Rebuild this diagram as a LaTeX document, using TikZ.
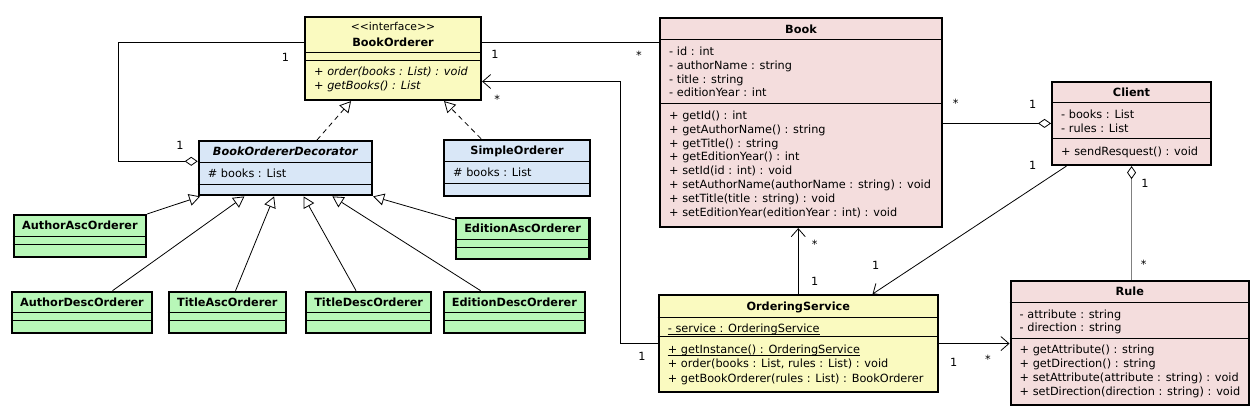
\documentclass[tikz,border=0pt]{standalone}
\usepackage{fontspec}
\setmainfont{DejaVu Sans}
\usetikzlibrary{arrows.meta,positioning}

\definecolor{ifaceyellow}{RGB}{250,250,192}
\definecolor{bookpink}{RGB}{244,221,221}
\definecolor{decoblue}{RGB}{217,231,247}
\definecolor{leafgreen}{RGB}{184,247,184}

\begin{document}
\begin{tikzpicture}[x=1pt,y=-1pt,font=\fontsize{11.3pt}{14pt}\selectfont,
    umlclass/.style={draw,line width=2.1pt,anchor=north west,inner sep=0pt},
    compsep/.style={line width=1pt},
    ctitle/.style={anchor=base,inner sep=0pt,font=\fontsize{11.3pt}{14pt}\selectfont\bfseries},
    stereo/.style={anchor=base,inner sep=0pt,font=\fontsize{10.8pt}{12pt}\selectfont},
    member/.style={anchor=base west,inner sep=0pt},
    mult/.style={anchor=base,inner sep=0pt},
    assoc/.style={line width=0.8pt},
    navarrow/.style={-{Straight Barb[length=8pt,width=14pt]}},
    aggr/.style={{Diamond[color=black,fill=white,length=13pt,width=9pt]}-},
    realize/.style={line width=0.8pt,dash pattern=on 5pt off 4pt,-{Triangle[fill=white,length=11pt,width=12pt]}},
    inherit/.style={line width=0.8pt,-{Triangle[fill=white,length=11pt,width=12pt]}}]
    \useasboundingbox (0,0) rectangle (1260,416);

    % Interface
    \node[umlclass,fill=ifaceyellow,minimum width=176,minimum height=83] (bo) at (304,16) {};
    \node[stereo] (bo-s) at ([yshift=-14.6]bo.north) {<{}<interface>{}>};
    \node[ctitle] (bo-t) at ([yshift=-30]bo.north) {BookOrderer};
    \foreach \t [count=\i from 0] in {order(books : List) : void, getBooks() : List}
        \node[member] (bo-m\i) at ([xshift=10,yshift=-59.5-14*\i]bo.north west) {\itshape + \t};

    % Decorator and simple orderer
    \node[umlclass,fill=decoblue,minimum width=173.3,minimum height=54.3] (dec) at (197.7,140) {};
    \node[ctitle] (dec-t) at ([yshift=-15.7]dec.north) {\itshape BookOrdererDecorator};
    \node[member] (dec-a0) at ([xshift=10,yshift=-37.3]dec.north west) {\# books : List};
    \node[umlclass,fill=decoblue,minimum width=146,minimum height=56.3] (so) at (443,138.7) {};
    \node[ctitle] (so-t) at ([yshift=-16]so.north) {SimpleOrderer};
    \node[member] (so-a0) at ([xshift=10,yshift=-38]so.north west) {\# books : List};

    % Concrete orderers
    \foreach \n/\x/\y/\w/\t in {aao/12.7/214/132.3/AuthorAscOrderer, eao/454.7/216.7/133.7/EditionAscOrderer,
        ado/10.7/290.7/140.3/AuthorDescOrderer, tao/167.6/290.7/117.4/TitleAscOrderer,
        tdo/305/290.7/125.2/TitleDescOrderer, edo/443/290.7/140.6/EditionDescOrderer} {
        \node[umlclass,fill=leafgreen,minimum width=\w,minimum height=41.5] (\n) at (\x,\y) {};
        \node[ctitle] (\n-t) at ([yshift=-15.7]\n.north) {\t};
    }

    % Book
    \node[umlclass,fill=bookpink,minimum width=282,minimum height=209.3] (book) at (659,16.7) {};
    \node[ctitle] (book-t) at ([yshift=-16.3]book.north) {Book};
    \foreach \t [count=\i from 0] in {id : int, authorName : string, title : string, editionYear : int}
        \node[member] (book-a\i) at ([xshift=10,yshift=-38.5-13.9*\i]book.north west) {- \t};
    \foreach \t [count=\i from 0] in {getId() : int, getAuthorName() : string, getTitle() : string,
        getEditionYear() : int, setId(id : int) : void, setAuthorName(authorName : string) : void,
        setTitle(title : string) : void, setEditionYear(editionYear : int) : void}
        \node[member] (book-m\i) at ([xshift=10,yshift=-102.5-13.9*\i]book.north west) {+ \t};

    % Client
    \node[umlclass,fill=bookpink,minimum width=159,minimum height=83.3] (client) at (1051,80.7) {};
    \node[ctitle] (client-t) at ([yshift=-15.6]client.north) {Client};
    \foreach \t [count=\i from 0] in {books : List, rules : List}
        \node[member] (client-a\i) at ([xshift=10,yshift=-38-13.6*\i]client.north west) {- \t};
    \node[member] (client-m0) at ([xshift=10,yshift=-74.3]client.north west) {+ sendResquest() : void};

    % Rule
    \node[umlclass,fill=bookpink,minimum width=238.5,minimum height=124.3] (rule) at (1009.5,280) {};
    \node[ctitle] (rule-t) at ([yshift=-15.7]rule.north) {Rule};
    \foreach \t [count=\i from 0] in {attribute : string, direction : string}
        \node[member] (rule-a\i) at ([xshift=10,yshift=-38-13.7*\i]rule.north west) {- \t};
    \foreach \t [count=\i from 0] in {getAttribute() : string, getDirection() : string,
        setAttribute(attribute : string) : void, setDirection(direction : string) : void}
        \node[member] (rule-m\i) at ([xshift=10,yshift=-73-14.2*\i]rule.north west) {+ \t};

    % Ordering service
    \node[umlclass,fill=ifaceyellow,minimum width=279,minimum height=97] (os) at (657.7,294) {};
    \node[ctitle] (os-t) at ([yshift=-16]os.north) {OrderingService};
    \node[member] (os-a0) at ([xshift=10,yshift=-38.3]os.north west) {- service : OrderingService};
    \node[member] (os-m0) at ([xshift=10,yshift=-59.3]os.north west) {+ getInstance() : OrderingService};
    \node[member] (os-m1) at ([xshift=10,yshift=-73.8]os.north west) {+ order(books : List, rules : List) : void};
    \node[member] (os-m2) at ([xshift=10,yshift=-88.3]os.north west) {+ getBookOrderer(rules : List) : BookOrderer};
    % static members underlined
    \foreach \s in {os-a0,os-m0}
        \draw[line width=0.7pt] ([yshift=-1.8]\s.base west) -- ([yshift=-1.8]\s.base east);

    % Compartment lines
    \foreach \c/\d in {bo/36.5,bo/44.5,book/22.6,book/86.6,client/21.6,client/57.6,rule/22.7,rule/58.3,
        os/23.3,os/42.7,dec/22.7,dec/44,so/23,so/44.6,aao/22.7,aao/30.3,eao/23,eao/31,
        ado/22,ado/30,tao/22,tao/30,tdo/22,tdo/30,edo/22,edo/30}
        \draw[compsep] ([yshift=-\d]\c.north west) -- ([yshift=-\d]\c.north east);

    % Realizations
    \draw[realize] ([xshift=31.6]dec.north) -- ([xshift=-42]bo.south);
    \draw[realize] ([xshift=-36]so.north) -- ([xshift=51]bo.south);

    % Generalizations
    \draw[inherit] (aao.north east) -- ([xshift=-85.3]dec.south);
    \draw[inherit] ([xshift=30.6]ado.north) -- ([xshift=-41]dec.south);
    \draw[inherit] ([xshift=8.2]tao.north) -- ([xshift=-11.3]dec.south);
    \draw[inherit] ([xshift=-12.6]tdo.north) -- ([xshift=18.2]dec.south);
    \draw[inherit] ([xshift=-33.7]edo.north) -- ([xshift=47]dec.south);
    \draw[inherit] ([yshift=-3.3]eao.north west) -- (dec.south east);

    % Associations
    \draw[assoc] ([yshift=-26]bo.north east) -- ([yshift=-26]bo.north east -| book.west);
    \draw[assoc,aggr] ([yshift=-21.3]dec.north west) -- ++(-79,0) |- ([yshift=-26.5]bo.north west);
    \draw[assoc,aggr] (client.west) -- (client.west -| book.east);
    \draw[assoc,aggr,black!50] (client.south) -- (client.south |- rule.north);
    \draw[assoc,navarrow] (os.north) -- (os.north |- book.south);
    \draw[assoc,navarrow] (os.west) -- ++(-37.5,0) |- ([yshift=-65.5]bo.north east);
    \draw[assoc,navarrow] (os.east) -- (os.east -| rule.west);
    \draw[assoc,navarrow] ([xshift=15.4]client.south west) -- ([xshift=74.3]os.north);

    % Multiplicities
    \foreach \x/\y/\t [count=\i] in {285.5/61/1, 180/149/1, 495/58.7/1, 639/59.3/*, 497.3/103/*,
        642/360/1, 955.7/107.7/*, 1032.7/108.3/1, 1032.7/169/1, 1145/187.3/1, 1143.8/268.7/*,
        814.7/248.7/*, 814.7/285.7/1, 875.7/269.7/1, 953.6/366.3/1, 988/363.3/*}
        \node[mult] (m\i) at (\x,\y) {\t};
\end{tikzpicture}
\end{document}
